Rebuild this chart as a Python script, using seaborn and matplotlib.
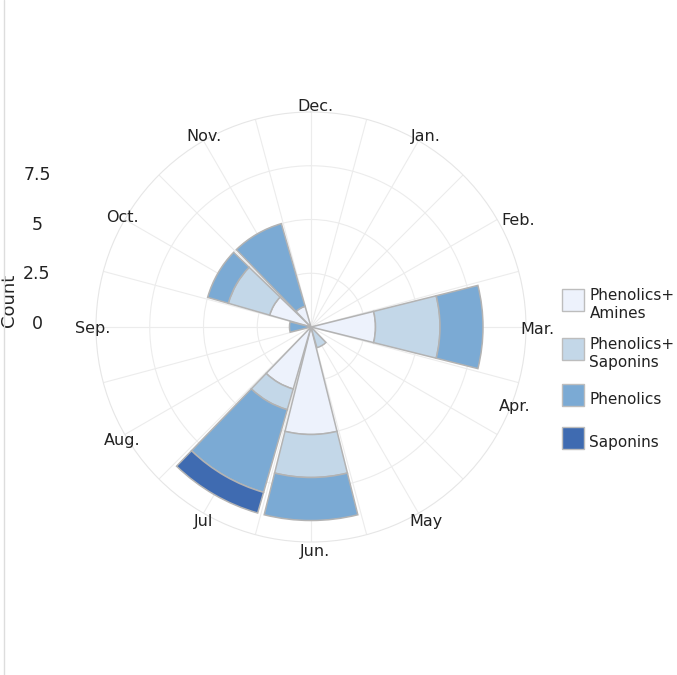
import numpy as np
import matplotlib
matplotlib.use("Agg")
import matplotlib.pyplot as plt
import matplotlib.transforms as mtransforms
import seaborn as sns
from matplotlib.lines import Line2D

# ---- data ----
months = ["Dec.", "Jan.", "Feb.", "Mar.", "Apr.", "May", "Jun.", "Jul", "Aug.", "Sep.", "Oct.", "Nov."]
phenolics_amines   = [0, 0, 0, 3, 0, 0, 5, 3, 0, 0, 2, 1]
phenolics_saponins = [0, 0, 0, 3, 0, 1, 2, 1, 0, 0, 2, 0]
phenolics          = [0, 0, 0, 2, 0, 0, 2, 4, 0, 1, 1, 4]
saponins           = [0, 0, 0, 0, 0, 0, 0, 1, 0, 0, 0, 0]
series_names = ["Phenolics+\nAmines", "Phenolics+\nSaponins", "Phenolics", "Saponins"]
radial_ticks = [0, 2.5, 5, 7.5]

# ---- style ----
colors = ["#EDF2FC", "#C3D7E8", "#7BAAD4", "#3F6BB1"]
edge = "#b3b3b3"
grid_c = "#ececec"
txt_c = "#222222"

sns.set_theme(style="white")
plt.rcParams['font.family'] = ['DejaVu Sans']

fig = plt.figure(figsize=(6.77, 6.75), dpi=100)
W, H = 677, 675
cx, cy, R = 311, 327, 215
ax = fig.add_axes([(cx - R) / W, (H - cy - R) / H, 2 * R / W, 2 * R / H], projection='polar')
ax.set_theta_zero_location('N')
ax.set_theta_direction(-1)

theta = np.deg2rad(np.arange(len(months)) * 30.0)
width = np.deg2rad(28)

series = [phenolics_amines, phenolics_saponins, phenolics, saponins]
bottom = np.zeros(len(months))
for vals, col in zip(series, colors):
    v = np.asarray(vals, dtype=float)
    m = v > 0
    ax.bar(theta[m], v[m], width=width, bottom=bottom[m], color=col,
           edgecolor=edge, linewidth=1.1, zorder=3)
    bottom += v

ax.set_ylim(0, 10)
ax.set_yticks([2.5, 5, 7.5])
ax.set_yticklabels([])
ax.set_xticks(theta)
ax.set_xticklabels([])
ax.set_xticks(theta + np.deg2rad(15), minor=True)
ax.tick_params(axis='x', which='both', length=0)
ax.tick_params(axis='y', length=0)
ax.grid(True, which='both', color=grid_c, linewidth=0.8)
ax.xaxis.grid(True, which='minor', color=grid_c, linewidth=0.8)
ax.spines['polar'].set_color('#e6e6e6')
ax.spines['polar'].set_linewidth(0.8)
ax.set_facecolor('white')

# month labels just outside the outer ring (slightly shifted right/down as in the reference)
lab_tr = mtransforms.offset_copy(ax.transData, fig=fig, x=4, y=-2, units='dots')
for th, mth in zip(theta, months):
    t_pos, r_pos = th, 10.35
    if mth == "Apr.":
        t_pos, r_pos = np.deg2rad(111.2), 9.95
    elif mth == "Feb.":
        t_pos, r_pos = np.deg2rad(62.0), 10.7
    ax.text(t_pos, r_pos, mth, transform=lab_tr, fontsize=11.5, color=txt_c,
            ha='center', va='center', clip_on=False)

# ---- left radial scale ----
ax2 = fig.add_axes([37 / W, (H - 322) / H, 10 / W, 149 / H])
ax2.set_ylim(0, 7.5)
ax2.set_yticks(radial_ticks)
ax2.set_yticklabels([f"{t:g}" for t in radial_ticks], fontsize=12.5, color=txt_c)
for lab in ax2.get_yticklabels():
    lab.set_ha('center')
ax2.tick_params(axis='y', length=0, pad=0)
ax2.set_xticks([])
for s in ax2.spines.values():
    s.set_visible(False)
ax2.patch.set_alpha(0)
ax2.set_ylabel("Count", fontsize=13, color=txt_c)
ax2.yaxis.label.set_va('center')
ax2.yaxis.set_label_coords((9 - 37) / 10, (322 - 300) / 149)

# ---- legend ----
handles = [Line2D([], [], linestyle='none', marker='s', markersize=15.3,
                  markerfacecolor=c, markeredgecolor='#bdbdbd', markeredgewidth=1)
           for c in colors]
leg = fig.legend(handles, series_names, loc='center left',
                 bbox_to_anchor=(562 / W, (H - 372) / H), frameon=False, fontsize=11,
                 handlelength=1.4, handleheight=2.3, handletextpad=0.4,
                 labelspacing=1.08, borderpad=0, borderaxespad=0, numpoints=1)
for col in leg._legend_handle_box.get_children():
    for row in col.get_children():
        row.align = 'center'
for t in leg.get_texts():
    t.set_color(txt_c)

fig.add_artist(Line2D([4 / W, 4 / W], [0, 1], color='#dddddd', linewidth=1))

fig.savefig("out.png", dpi=100, facecolor='white')
